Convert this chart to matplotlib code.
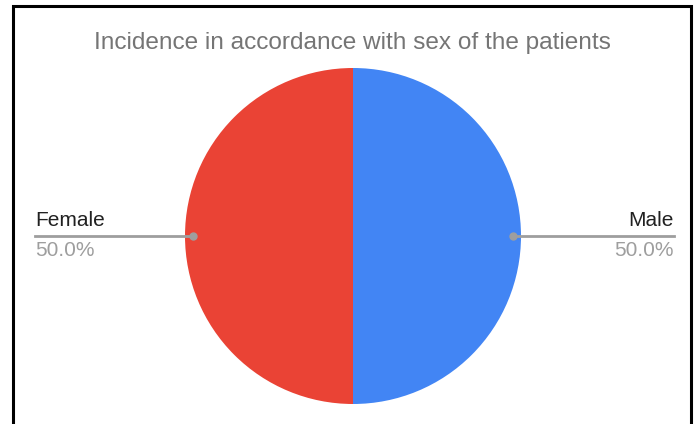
import matplotlib.pyplot as plt
import numpy as np

plt.rcParams['font.family'] = ['Liberation Sans', 'DejaVu Sans']

labels = ['Female', 'Male']
values = [50, 50]
colors = ['#EA4335', '#4285F4']
title = 'Incidence in accordance with sex of the patients'

W, H = 699, 424
fig = plt.figure(figsize=(W / 100, H / 100), dpi=100)
ax = fig.add_axes([0, 0, 1, 1])

# frame around the chart area (open at the bottom)
ax.plot([13, 13, 691, 691], [H, 6, 6, H], color='black', lw=2.2,
        solid_joinstyle='miter', clip_on=False)

cx, cy, r = 353, 236, 168
wedges, _ = ax.pie(values, colors=colors, startangle=90, counterclock=True,
                   center=(cx, cy), radius=r, frame=True,
                   wedgeprops=dict(linewidth=0))
ax.set_xlim(0, W)
ax.set_ylim(H, 0)
ax.set_aspect('equal')
ax.axis('off')

ax.text(W / 2 + 3, 43, title, ha='center', va='center', fontsize=17.6,
        color='#757575')

total = sum(values)
for w, lab, v in zip(wedges, labels, values):
    mid = np.deg2rad((w.theta1 + w.theta2) / 2)
    # y axis is inverted, so flip the sine
    px = cx + r * np.cos(mid) * 0.95
    py = cy - r * np.sin(mid) * 0.95
    py = cy if abs(py - cy) < 1 else py
    if np.cos(mid) < 0:
        x_end, ha = 35, 'left'
    else:
        x_end, ha = 674, 'right'
    ax.plot([px, x_end], [py, py], color='#9E9E9E', lw=2)
    ax.plot(px, py, 'o', color='#9E9E9E', ms=5)
    ax.text(x_end, py - 6, lab, ha=ha, va='bottom', fontsize=15,
            color='#212121')
    ax.text(x_end, py + 5, f'{v / total * 100:.1f}%', ha=ha, va='top',
            fontsize=15, color='#9E9E9E')

fig.savefig('out.png', dpi=100, facecolor='white')
